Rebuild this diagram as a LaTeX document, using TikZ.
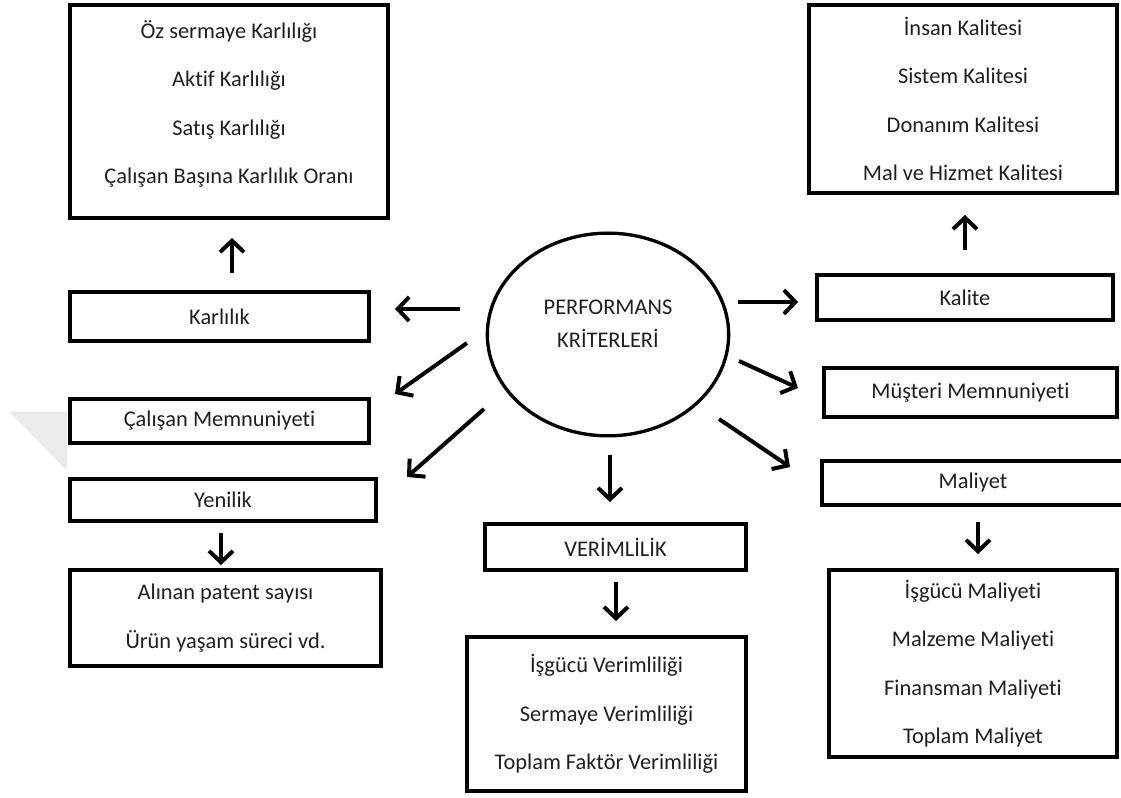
\documentclass[tikz,border=0pt]{standalone}
\usepackage{fontspec}
\setmainfont{Carlito}[Ligatures=NoCommon]
\usetikzlibrary{arrows.meta,shapes.geometric}

% box given by its outer pixel edges: name, x1, y1, x2, y2, text
\newcommand\pxbox[6]{%
  \pgfmathsetmacro\bxw{(#4-#2-4.5)*0.75}%
  \pgfmathsetmacro\bxh{(#5-#3-4.5)*0.75}%
  \node[bx, minimum width=\bxw pt, minimum height=\bxh pt] (#1) at ({(#2+#4)/2},{(#3+#5)/2}) {#6};%
}

\begin{document}
\begin{tikzpicture}[x=0.75pt,y=-0.75pt,
  txt/.style={text=black!88, font=\fontsize{16.8}{36.4}\selectfont},
  bx/.style={txt, draw=black, line width=3.3pt, fill=white, inner sep=0pt, align=center},
  hub/.style={txt, draw=black, line width=2.5pt, fill=white, ellipse, inner sep=0pt, align=center,
    font=\fontsize{16.8}{24.8}\selectfont},
  arr/.style={line width=3pt, -{Straight Barb[length=8.5pt,width=18pt]}},
]
\useasboundingbox (0,0) rectangle (1121,798);
\clip (0,0) rectangle (1121,798);

% faint wedge at the left margin
\fill[black!8] (10,412) -- (67,412) -- (67,471) -- cycle;

% centre
\node[hub, minimum width=181pt, minimum height=152pt] (hub) at (608,334.5)
  {PERFORMANS\\KRİTERLERİ\rule[-16.5pt]{0pt}{0pt}};

% left column
\pxbox{karlist}{68}{3}{390}{220}{Öz sermaye Karlılığı\\Aktif Karlılığı\\Satış Karlılığı\\Çalışan Başına Karlılık Oranı\rule[-14.2pt]{0pt}{0pt}}
\pxbox{karl}{68}{290}{371}{343}{Karlılık}
\pxbox{calis}{68}{397}{371}{445}{Çalışan Memnuniyeti}
\pxbox{yeni}{68}{477}{378}{523}{Yenilik}
\pxbox{patent}{68}{568}{383}{668}{Alınan patent sayısı\\Ürün yaşam süreci vd.}

% middle column
\pxbox{verim}{483}{522}{748}{572}{VERİMLİLİK}
\pxbox{verlist}{465}{635}{748}{793}{İşgücü Verimliliği\\Sermaye Verimliliği\\Toplam Faktör Verimliliği}

% right column
\pxbox{kallist}{807}{3}{1119}{195}{İnsan Kalitesi\\Sistem Kalitesi\\Donanım Kalitesi\\Mal ve Hizmet Kalitesi}
\pxbox{kal}{815}{273}{1115}{322}{Kalite}
\pxbox{must}{822}{366}{1119}{419}{Müşteri Memnuniyeti}
\pxbox{mal}{820}{459}{1126}{507}{Maliyet}
\pxbox{mallist}{827}{568}{1119}{759}{İşgücü Maliyeti\\Malzeme Maliyeti\\Finansman Maliyeti\\Toplam Maliyet}

% arrow end points
\coordinate (h1) at (460,309);  \coordinate (t1) at (395,309);
\coordinate (h2) at (467,343);  \coordinate (t2) at (395,394);
\coordinate (h3) at (484,409);  \coordinate (t3) at (407,477);
\coordinate (h4) at (610,455);  \coordinate (t4) at (610,502);
\coordinate (h5) at (738,302);  \coordinate (t5) at (798,302);
\coordinate (h6) at (739,361);  \coordinate (t6) at (798,388);
\coordinate (h7) at (719,419);  \coordinate (t7) at (790,467);
\coordinate (u1) at (232,273);  \coordinate (v1) at (232,238);
\coordinate (u2) at (965,250);  \coordinate (v2) at (965,215);
\coordinate (d1) at (221,533);  \coordinate (e1) at (221,565);
\coordinate (d2) at (616,582);  \coordinate (e2) at (616,621);
\coordinate (d3) at (978,522);  \coordinate (e3) at (978,554);

% connectors
\draw[arr] (h1) -- (t1);
\draw[arr] (h2) -- (t2);
\draw[arr] (h3) -- (t3);
\draw[arr] (h4) -- (t4);
\draw[arr] (h5) -- (t5);
\draw[arr] (h6) -- (t6);
\draw[arr] (h7) -- (t7);
\draw[arr] (u1) -- (v1);
\draw[arr] (u2) -- (v2);
\draw[arr] (d1) -- (e1);
\draw[arr] (d2) -- (e2);
\draw[arr] (d3) -- (e3);
\end{tikzpicture}
\end{document}
